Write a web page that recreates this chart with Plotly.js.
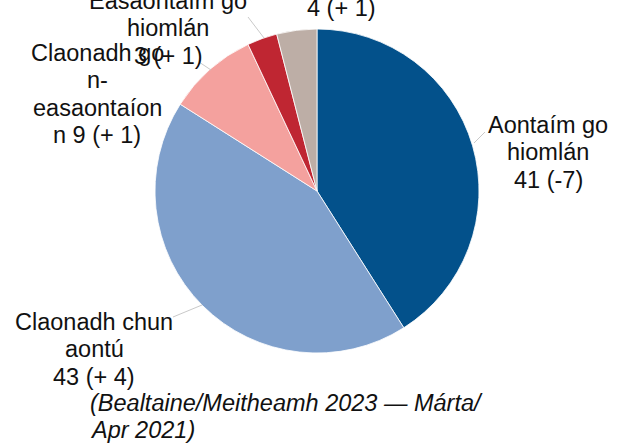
<!DOCTYPE html>
<html>
<head>
<meta charset="utf-8">
<script src="https://cdn.plot.ly/plotly-3.0.1.min.js"></script>
<style>html,body{margin:0;padding:0;background:#fff;}#chart{width:625px;height:443px;}</style>
</head>
<body>
<div id="chart"></div>
<script>
// ---- data ----
var categories = ["Aontaím go hiomlán", "Claonadh chun aontú", "Claonadh go n-easaontaíonn", "Easaontaím go hiomlán", "Níl a fhios agam"];
var values = [41, 43, 9, 3, 4];
var changes = ["-7", "+ 4", "+ 1", "+ 1", "+ 1"];
// label text as wrapped in the picture (name part, then separator before value)
var labelNames = ["Aontaím go<br>hiomlán<br>", "Claonadh chun<br>aontú<br>", "Claonadh go<br>n-<br>easaontaíon<br>n ", "Easaontaím go<br>hiomlán<br>", ""];
var captionText = "(Bealtaine/Meitheamh 2023 — Márta/<br>Apr 2021)";

// ---- styles / positions ----
var colors = ["#03518B", "#7FA0CC", "#F4A19E", "#BF2632", "#BDAEA6"];
var W = 625, H = 443;
var cx = 317, cy = 191, R = 162;
var FONT = "Liberation Sans, Arial, sans-serif";
var FS = 23.5, LH = 27.4;
// first-line centre of each label, pixels
var labelPos = [[548, 125], [94, 322], [97, 53], [168, 1], [341, 8]];
// leader lines, pixels [x0,y0,x1,y1]
var leaders = [[474, 143, 485, 132], [173, 317, 202, 305], [199, 62, 211, 70], [248, 17, 264, 38]];

function px(x) { return x / W; }
function py(y) { return 1 - y / H; }

var annotations = [];
function addLines(text, x, y, xanchor, italic) {
  var lines = text.split("<br>");
  lines.forEach(function (ln, i) {
    annotations.push({
      text: ln, xref: "paper", yref: "paper",
      x: px(x), y: py(y + i * LH), xanchor: xanchor, yanchor: "middle",
      showarrow: false,
      font: {family: FONT, size: FS, color: "#111", style: italic ? "italic" : "normal"}
    });
  });
}
for (var i = 0; i < values.length; i++) {
  var t = labelNames[i] + values[i] + " (" + changes[i] + ")";
  addLines(t, labelPos[i][0], labelPos[i][1], "center", false);
}
addLines(captionText, 88, 403, "left", true);

var shapes = leaders.map(function (l) {
  return {type: "line", xref: "paper", yref: "paper",
    x0: px(l[0]), y0: py(l[1]), x1: px(l[2]), y1: py(l[3]),
    line: {color: "#c9c9c9", width: 1}};
});

var trace = {
  type: "pie",
  labels: categories,
  values: values,
  sort: false,
  direction: "clockwise",
  rotation: 0,
  textinfo: "none",
  hoverinfo: "none",
  marker: {colors: colors, line: {color: "#ffffff", width: 0.8}},
  domain: {x: [px(cx - R), px(cx + R)], y: [py(cy + R), py(cy - R)]}
};

var layout = {
  width: W, height: H,
  margin: {l: 0, r: 0, t: 0, b: 0},
  showlegend: false,
  paper_bgcolor: "#ffffff",
  annotations: annotations,
  shapes: shapes
};

Plotly.newPlot("chart", [trace], layout, {staticPlot: true, displayModeBar: false});
</script>
</body>
</html>
